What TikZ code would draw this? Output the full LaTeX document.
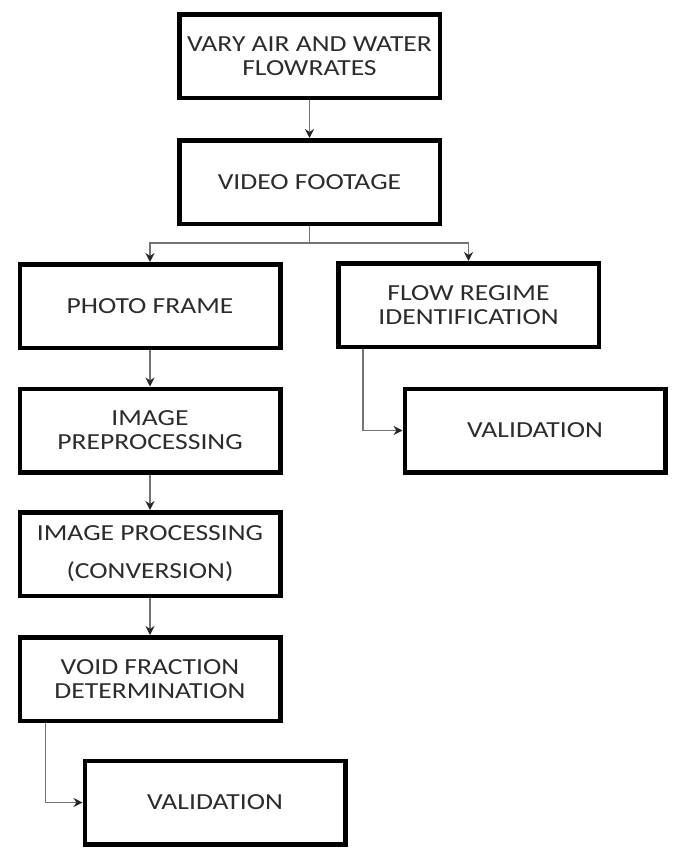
\documentclass[tikz,border=0pt]{standalone}
\usepackage{fontspec}
\setmainfont{Carlito}[FakeStretch=1.2]
\usetikzlibrary{arrows.meta,calc}
\definecolor{boxtext}{HTML}{2C2C2C}
\definecolor{linkgray}{HTML}{747474}
\tikzset{
  x=1pt, y=-1pt,
  stepbox/.style={draw=black, line width=4.5pt, fill=white,
    minimum width=260.5pt, minimum height=83.5pt, inner sep=2pt,
    align=center, text=boxtext, font=\fontsize{23}{24}\selectfont},
  conn/.style={draw=linkgray, line width=1.7pt,
    -{Stealth[length=9pt,width=9pt,inset=3pt,color=black!85]}},
}
\begin{document}
\begin{tikzpicture}
\useasboundingbox (0,0) rectangle (675,848);

% process boxes
\node[stepbox] (vary)   at (309.5,56.5) {VARY AIR AND WATER\\FLOWRATES};
\node[stepbox] (video)  at (309.5,182)  {VIDEO FOOTAGE};
\node[stepbox] (photo)  at (150,306)    {PHOTO FRAME};
\node[stepbox] (flow)   at (468.5,305)  {FLOW REGIME\\IDENTIFICATION};
\node[stepbox] (valR)   at (535,430.5)  {VALIDATION};
\node[stepbox] (prep)   at (150,430.5)  {IMAGE\\PREPROCESSING};
\node[stepbox] (proc)   at (150,554)    {IMAGE PROCESSING\\[14pt](CONVERSION)};
\node[stepbox] (void)   at (150,679)    {VOID FRACTION\\DETERMINATION};
\node[stepbox] (valB)   at (215,802.5)  {VALIDATION};

% branching point below the video footage
\coordinate (split) at ($(video.south)+(0,17)$);
\coordinate (flowout) at ($(flow.south west)+(27,0)$);
\coordinate (voidout) at ($(void.south west)+(28,0)$);

% connectors
\draw[conn] (vary.south) -- (video.north);
\draw[conn] (video.south) -- (split) -| (photo.north);
\draw[conn] (split) -| (flow.north);
\draw[conn] (photo.south) -- (prep.north);
\draw[conn] (prep.south) -- (proc.north);
\draw[conn] (proc.south) -- (void.north);
\draw[conn] (flowout) |- (valR.west);
\draw[conn] (voidout) |- (valB.west);
\end{tikzpicture}
\end{document}
